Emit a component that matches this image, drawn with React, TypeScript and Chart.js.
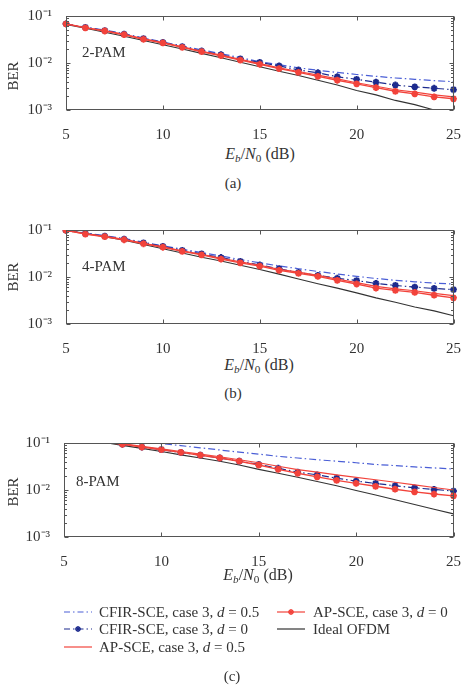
import React, { useEffect, useRef } from "react";
import { Chart, registerables } from "chart.js";

Chart.register(...registerables);

// Eb/N0 grid (dB)
const snrDb = [5, 6, 7, 8, 9, 10, 11, 12, 13, 14, 15, 16, 17, 18, 19, 20, 21, 22, 23, 24, 25];

// 2-PAM
const cfirD05Pam2 = [0.068, 0.058, 0.05, 0.042, 0.034, 0.028, 0.023, 0.019, 0.0158, 0.013, 0.0107, 0.0092, 0.0079, 0.007, 0.0063, 0.0057, 0.0052, 0.0048, 0.0045, 0.0042, 0.004];
const cfirD0Pam2 = [0.068, 0.057, 0.049, 0.041, 0.033, 0.0275, 0.0223, 0.018, 0.015, 0.0122, 0.0103, 0.0087, 0.0071, 0.0062, 0.0051, 0.0045, 0.0039, 0.0034, 0.0031, 0.0029, 0.0027];
const apD05Pam2 = [0.068, 0.057, 0.0485, 0.0405, 0.0325, 0.0272, 0.0221, 0.0178, 0.0147, 0.0119, 0.0097, 0.0079, 0.0066, 0.0055, 0.0046, 0.0038, 0.0032, 0.0027, 0.0024, 0.0021, 0.0019];
const apD0Pam2 = [0.068, 0.056, 0.048, 0.04, 0.032, 0.0267, 0.0216, 0.0174, 0.0143, 0.0115, 0.0094, 0.0076, 0.0063, 0.0052, 0.0043, 0.0036, 0.003, 0.0025, 0.0022, 0.0019, 0.00173];
const idealPam2 = [0.066, 0.055, 0.045, 0.037, 0.03, 0.0245, 0.0198, 0.016, 0.0129, 0.0104, 0.0083, 0.0067, 0.0054, 0.0043, 0.0034, 0.0026, 0.0021, 0.0016, 0.0013, 0.001, 0.0008];

// 4-PAM
const cfirD05Pam4 = [0.098, 0.086, 0.076, 0.066, 0.055, 0.046, 0.039, 0.033, 0.028, 0.0235, 0.02, 0.0172, 0.015, 0.0131, 0.0116, 0.0103, 0.0093, 0.0085, 0.0079, 0.0074, 0.0071];
const cfirD0Pam4 = [0.098, 0.084, 0.074, 0.064, 0.053, 0.045, 0.037, 0.031, 0.026, 0.0215, 0.018, 0.015, 0.0125, 0.0108, 0.0094, 0.0084, 0.0073, 0.0066, 0.0061, 0.0057, 0.0054];
const apD05Pam4 = [0.098, 0.083, 0.073, 0.063, 0.052, 0.044, 0.036, 0.0305, 0.025, 0.021, 0.0178, 0.0145, 0.0127, 0.0108, 0.009, 0.0076, 0.0063, 0.0056, 0.0051, 0.0045, 0.004];
const apD0Pam4 = [0.098, 0.082, 0.072, 0.062, 0.051, 0.043, 0.035, 0.0295, 0.024, 0.02, 0.017, 0.0138, 0.012, 0.0103, 0.0085, 0.0071, 0.0058, 0.0052, 0.0047, 0.0041, 0.0036];
const idealPam4 = [0.098, 0.0851, 0.0724, 0.0603, 0.049, 0.0398, 0.0324, 0.0263, 0.0219, 0.0178, 0.0145, 0.0115, 0.0091, 0.0072, 0.0058, 0.0046, 0.0036, 0.0029, 0.0023, 0.0019, 0.0015];

// 8-PAM
const cfirD05Pam8 = [0.16, 0.145, 0.13, 0.118, 0.107, 0.097, 0.088, 0.079, 0.071, 0.064, 0.058, 0.052, 0.048, 0.044, 0.041, 0.038, 0.035, 0.033, 0.031, 0.0295, 0.028];
const cfirD0Pam8 = [0.14, 0.122, 0.106, 0.094, 0.082, 0.072, 0.063, 0.055, 0.048, 0.041, 0.035, 0.029, 0.024, 0.021, 0.0178, 0.0155, 0.0138, 0.0123, 0.0111, 0.0103, 0.0095];
const apD05Pam8 = [0.145, 0.126, 0.11, 0.097, 0.085, 0.075, 0.066, 0.058, 0.051, 0.044, 0.038, 0.032, 0.0272, 0.024, 0.021, 0.0185, 0.0165, 0.0146, 0.0128, 0.0113, 0.01];
const apD0Pam8 = [0.14, 0.122, 0.106, 0.094, 0.082, 0.072, 0.063, 0.055, 0.048, 0.041, 0.034, 0.0275, 0.0227, 0.019, 0.016, 0.0138, 0.012, 0.0104, 0.0091, 0.0082, 0.0075];
const idealPam8 = [0.14, 0.12, 0.104, 0.089, 0.077, 0.066, 0.056, 0.048, 0.041, 0.034, 0.0275, 0.0228, 0.0186, 0.0152, 0.0123, 0.0098, 0.0078, 0.0062, 0.0049, 0.0039, 0.0031];

// Axis ticks
const xTickValues = [5, 10, 15, 20, 25];
const yTickValues = [0.001, 0.01, 0.1];
const yTickLabels = ["10\u207B\u00B3", "10\u207B\u00B2", "10\u207B\u00B9"];
const yMinorDecades = [0.001, 0.01];
const yMinorSteps = [2, 3, 4, 5, 6, 7, 8, 9];

const FONT = '"Liberation Serif", "Times New Roman", serif';
const TEXT = "#333";
const FRAME = "#555";
const BLUE_LIGHT = "#4a5ed6";
const BLUE_DARK = "#1d2b8e";
const RED = "#f2433b";
const BLACK = "#333";

const DASH_DOT = [7, 3, 1.5, 3];

type SeriesSet = {
  cfirD05: number[];
  cfirD0: number[];
  apD05: number[];
  apD0: number[];
  ideal: number[];
};

const pointsOf = (values: number[]) => snrDb.map((x, i) => ({ x, y: values[i] }));

const markerRadius = (ctx: any) => (ctx.raw && ctx.raw.y > 0.1 ? 0 : 3.4);

const frameTicksPlugin = {
  id: "frameTicks",
  afterDatasetsDraw(chart: any) {
    const { ctx, chartArea: a, scales } = chart;
    const xs = scales.x;
    const ys = scales.y;
    const L = Math.round(a.left) + 0.5;
    const R = Math.round(a.right) - 0.5;
    const T = Math.round(a.top) + 0.5;
    const B = Math.round(a.bottom) - 0.5;
    ctx.save();
    ctx.strokeStyle = FRAME;
    ctx.lineWidth = 1;
    ctx.beginPath();
    xTickValues.forEach((v) => {
      const px = Math.round(xs.getPixelForValue(v)) + 0.5;
      ctx.moveTo(px, B);
      ctx.lineTo(px, B - 4);
      ctx.moveTo(px, T);
      ctx.lineTo(px, T + 4);
    });
    yTickValues.forEach((v) => {
      const py = Math.round(ys.getPixelForValue(v)) + 0.5;
      ctx.moveTo(L, py);
      ctx.lineTo(L + 4, py);
      ctx.moveTo(R, py);
      ctx.lineTo(R - 4, py);
    });
    yMinorDecades.forEach((d) => {
      yMinorSteps.forEach((m) => {
        const py = Math.round(ys.getPixelForValue(d * m)) + 0.5;
        ctx.moveTo(L, py);
        ctx.lineTo(L + 2.5, py);
        ctx.moveTo(R, py);
        ctx.lineTo(R - 2.5, py);
      });
    });
    ctx.stroke();
    ctx.strokeRect(L, T, R - L, B - T);
    ctx.restore();
  },
};

function BerPanel({ top, axisWidth, rightPad, data }: { top: number; axisWidth: number; rightPad: number; data: SeriesSet }) {
  const ref = useRef<HTMLCanvasElement | null>(null);

  useEffect(() => {
    const clip = { left: 6, right: 6, top: 0, bottom: 0 };
    const chart = new Chart(ref.current as HTMLCanvasElement, {
      type: "line",
      data: {
        datasets: [
          {
            label: "AP-SCE, case 3, d = 0",
            data: pointsOf(data.apD0),
            borderColor: RED,
            borderWidth: 1.4,
            pointStyle: "star",
            pointRadius: markerRadius,
            pointBorderColor: RED,
            pointBackgroundColor: RED,
            pointBorderWidth: 2,
            clip,
          },
          {
            label: "AP-SCE, case 3, d = 0.5",
            data: pointsOf(data.apD05),
            borderColor: RED,
            borderWidth: 1.2,
            pointRadius: 0,
            clip,
          },
          {
            label: "CFIR-SCE, case 3, d = 0",
            data: pointsOf(data.cfirD0),
            borderColor: BLUE_DARK,
            borderWidth: 1.2,
            borderDash: DASH_DOT,
            pointStyle: "star",
            pointRadius: markerRadius,
            pointBorderColor: BLUE_DARK,
            pointBackgroundColor: BLUE_DARK,
            pointBorderWidth: 2,
            clip,
          },
          {
            label: "CFIR-SCE, case 3, d = 0.5",
            data: pointsOf(data.cfirD05),
            borderColor: BLUE_LIGHT,
            borderWidth: 1.2,
            borderDash: DASH_DOT,
            pointRadius: 0,
            clip,
          },
          {
            label: "Ideal OFDM",
            data: pointsOf(data.ideal),
            borderColor: BLACK,
            borderWidth: 1.1,
            pointRadius: 0,
            clip,
          },
        ] as any,
      },
      options: {
        animation: false,
        responsive: false,
        devicePixelRatio: 1,
        events: [],
        layout: { padding: { top: 16, right: rightPad, left: 0, bottom: 0 } },
        plugins: { legend: { display: false }, tooltip: { enabled: false } },
        elements: { line: { tension: 0, fill: false } },
        scales: {
          x: {
            type: "linear",
            min: 5,
            max: 25,
            grid: { display: false },
            border: { display: false },
            afterBuildTicks: (s: any) => {
              s.ticks = xTickValues.map((value) => ({ value }));
            },
            afterFit: (s: any) => {
              s.height = 30;
            },
            ticks: {
              color: TEXT,
              font: { family: FONT, size: 15 },
              padding: 8,
              maxRotation: 0,
              autoSkip: false,
              callback: (v: any) => String(v),
            },
          },
          y: {
            type: "logarithmic",
            min: 0.001,
            max: 0.1,
            grid: { display: false },
            border: { display: false },
            afterBuildTicks: (s: any) => {
              s.ticks = yTickValues.map((value) => ({ value }));
            },
            afterFit: (s: any) => {
              s.width = axisWidth;
            },
            ticks: {
              color: TEXT,
              font: { family: FONT, size: 15 },
              padding: 6,
              autoSkip: false,
              callback: (_v: any, i: number) => yTickLabels[i],
            },
          },
        },
      } as any,
      plugins: [frameTicksPlugin],
    });
    return () => chart.destroy();
  }, []);

  return (
    <canvas
      ref={ref}
      width={469}
      height={140}
      style={{ position: "absolute", left: 0, top, width: 469, height: 140 }}
    />
  );
}

function Txt({ x, y, size = 15, anchor = "middle", rotate = 0, children }: any) {
  const tx = anchor === "start" ? "0" : "-50%";
  return (
    <div
      style={{
        position: "absolute",
        left: x,
        top: y,
        transform: `translate(${tx}, -50%) rotate(${rotate}deg)`,
        fontFamily: FONT,
        fontSize: size,
        color: TEXT,
        whiteSpace: "nowrap",
        lineHeight: 1,
      }}
    >
      {children}
    </div>
  );
}

const subStyle: React.CSSProperties = { fontSize: "0.7em", verticalAlign: "-0.28em", lineHeight: 0 };

function XTitle({ x, y }: { x: number; y: number }) {
  return (
    <Txt x={x} y={y} size={16}>
      <i>E</i>
      <i style={subStyle}>b</i>/<i>N</i>
      <span style={subStyle}>0</span> (dB)
    </Txt>
  );
}

function Sample({ x, y, color, dash, marker }: { x: number; y: number; color: string; dash?: string; marker?: boolean }) {
  return (
    <svg width={28} height={12} style={{ position: "absolute", left: x, top: y - 6 }}>
      <line x1={0} y1={6} x2={28} y2={6} stroke={color} strokeWidth={1.2} strokeDasharray={dash} />
      {marker && (
        <g stroke={color} strokeWidth={1.6}>
          <line x1={11} y1={6} x2={17} y2={6} />
          <line x1={14} y1={3} x2={14} y2={9} />
          <line x1={12} y1={4} x2={16} y2={8} />
          <line x1={16} y1={4} x2={12} y2={8} />
        </g>
      )}
    </svg>
  );
}

export default function App() {
  const pam2: SeriesSet = { cfirD05: cfirD05Pam2, cfirD0: cfirD0Pam2, apD05: apD05Pam2, apD0: apD0Pam2, ideal: idealPam2 };
  const pam4: SeriesSet = { cfirD05: cfirD05Pam4, cfirD0: cfirD0Pam4, apD05: apD05Pam4, apD0: apD0Pam4, ideal: idealPam4 };
  const pam8: SeriesSet = { cfirD05: cfirD05Pam8, cfirD0: cfirD0Pam8, apD05: apD05Pam8, apD0: apD0Pam8, ideal: idealPam8 };
  const dashDot = "6 3 1.5 3";
  const legendSize = 15;

  return (
    <div style={{ position: "absolute", left: 0, top: 0, width: 469, height: 691, background: "#fff", overflow: "hidden" }}>
      <BerPanel top={0} axisWidth={66} rightPad={10} data={pam2} />
      <BerPanel top={214} axisWidth={66} rightPad={10} data={pam4} />
      <BerPanel top={427} axisWidth={64} rightPad={12} data={pam8} />

      <Txt x={13} y={76} rotate={-90}>BER</Txt>
      <Txt x={13} y={277} rotate={-90}>BER</Txt>
      <Txt x={13} y={492} rotate={-90}>BER</Txt>

      <Txt x={82} y={52} anchor="start">2-PAM</Txt>
      <Txt x={82} y={266} anchor="start">4-PAM</Txt>
      <Txt x={76} y={481} anchor="start">8-PAM</Txt>

      <XTitle x={260} y={154} />
      <XTitle x={259} y={365} />
      <XTitle x={258} y={575} />

      <Txt x={233} y={183}>(a)</Txt>
      <Txt x={233} y={393}>(b)</Txt>
      <Txt x={232} y={676}>(c)</Txt>

      <Sample x={64} y={612} color={BLUE_LIGHT} dash={dashDot} />
      <Txt x={99} y={612} size={legendSize} anchor="start">CFIR-SCE, case 3, <i>d</i> = 0.5</Txt>
      <Sample x={64} y={629} color={BLUE_DARK} dash={dashDot} marker />
      <Txt x={99} y={629} size={legendSize} anchor="start">CFIR-SCE, case 3, <i>d</i> = 0</Txt>
      <Sample x={64} y={647} color={RED} />
      <Txt x={99} y={647} size={legendSize} anchor="start">AP-SCE, case 3, <i>d</i> = 0.5</Txt>

      <Sample x={277} y={612} color={RED} marker />
      <Txt x={313} y={612} size={legendSize} anchor="start">AP-SCE, case 3, <i>d</i> = 0</Txt>
      <Sample x={277} y={629} color={BLACK} />
      <Txt x={313} y={629} size={legendSize} anchor="start">Ideal OFDM</Txt>
    </div>
  );
}
